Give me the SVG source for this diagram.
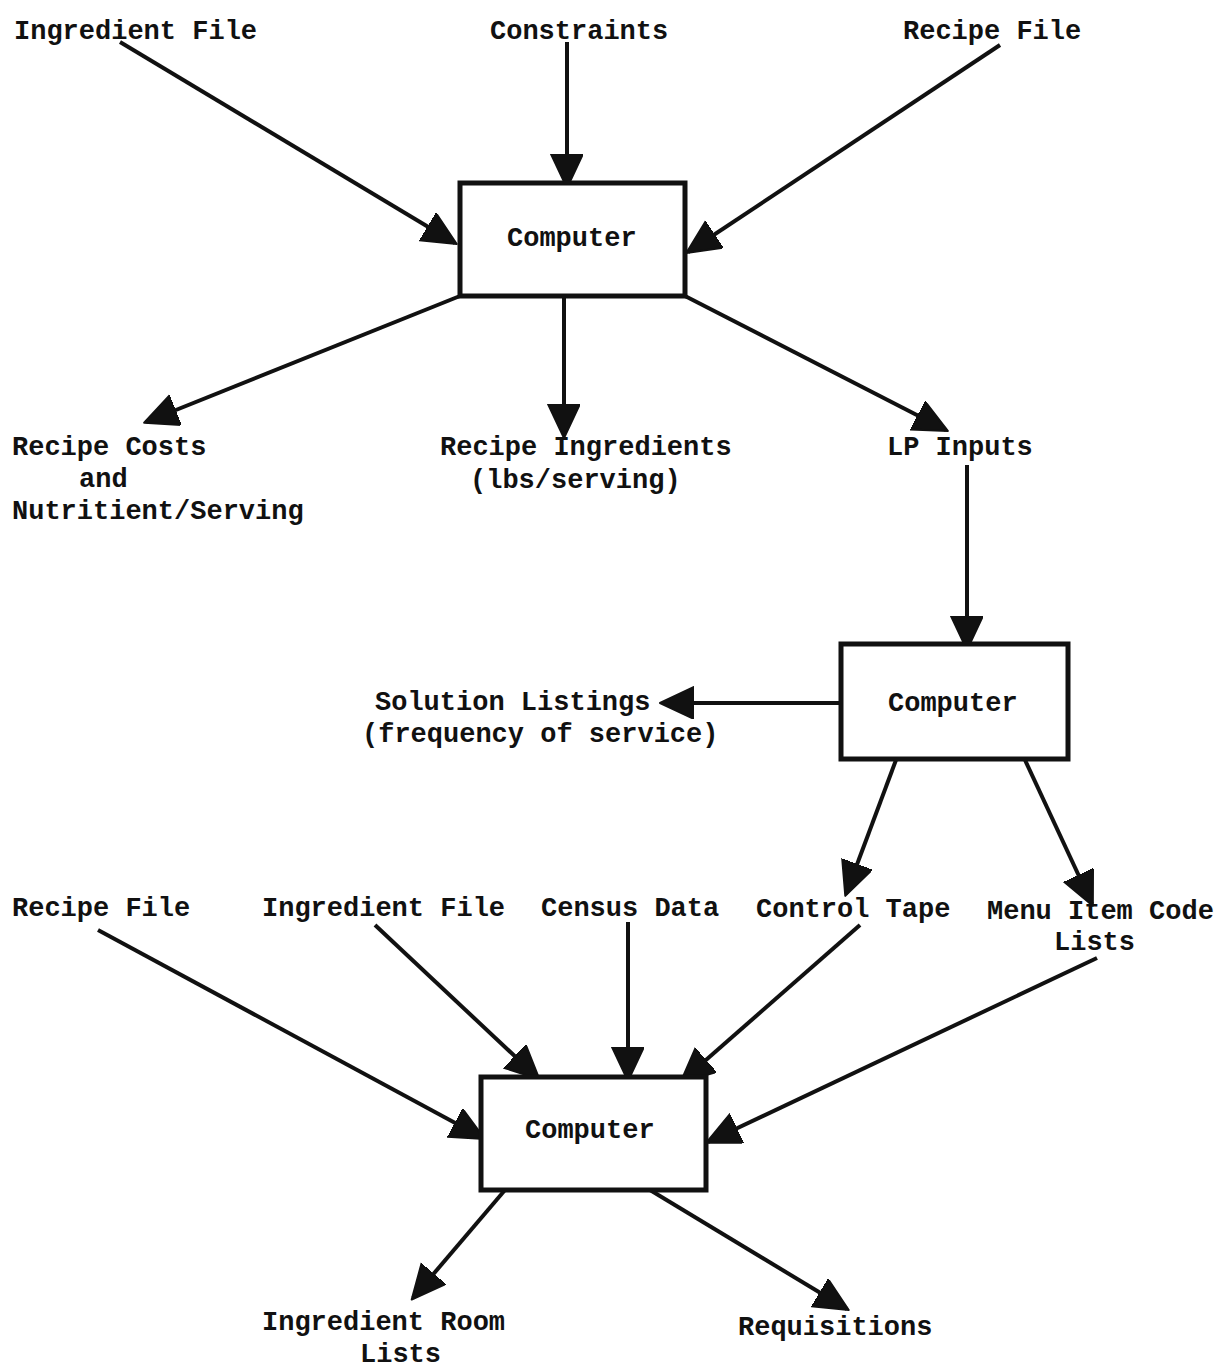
<svg xmlns="http://www.w3.org/2000/svg" width="1222" height="1368" viewBox="0 0 1222 1368">
<style>
text{font-family:"Liberation Mono","DejaVu Sans Mono",monospace;font-size:27px;font-weight:bold;fill:#111}
.box{fill:#fff;stroke:#111;stroke-width:5}
.c line{stroke:#111;stroke-width:4;marker-end:url(#ah)}
</style>
<defs>
<marker id="ah" markerUnits="userSpaceOnUse" markerWidth="36" markerHeight="34" refX="32" refY="16" orient="auto">
<path d="M0,0 L34,16 L0,32 z" fill="#111" stroke="#111" stroke-width="2" stroke-linejoin="round"/>
</marker>
</defs>
<rect width="1222" height="1368" fill="#fff"/>
<g class="c" id="connectors">
<line x1="120" y1="42" x2="455" y2="243"/>
<line x1="567" y1="42" x2="567" y2="186"/>
<line x1="1000" y1="45" x2="688" y2="252"/>
<line x1="460" y1="296" x2="146" y2="422"/>
<line x1="564" y1="296" x2="564" y2="436"/>
<line x1="685" y1="296" x2="946" y2="430"/>
<line x1="967" y1="465" x2="967" y2="648"/>
<line x1="840" y1="703" x2="662" y2="703"/>
<line x1="896" y1="760" x2="846" y2="894"/>
<line x1="1025" y1="760" x2="1092" y2="904"/>
<line x1="98" y1="930" x2="483" y2="1138"/>
<line x1="375" y1="925" x2="538" y2="1078"/>
<line x1="628" y1="922" x2="628" y2="1079"/>
<line x1="860" y1="925" x2="682" y2="1081"/>
<line x1="1097" y1="958" x2="708" y2="1142"/>
<line x1="505" y1="1190" x2="413" y2="1298"/>
<line x1="650" y1="1190" x2="847" y2="1309"/>
</g>
<g id="n1"><rect class="box" x="460" y="183" width="225" height="113"/><text x="507" y="246">Computer</text></g>
<g id="n2"><rect class="box" x="841" y="644" width="227" height="115"/><text x="888" y="711">Computer</text></g>
<g id="n3"><rect class="box" x="481" y="1077" width="225" height="113"/><text x="525" y="1138">Computer</text></g>
<g id="ingredient-file-1"><text x="14" y="39">Ingredient File</text></g>
<g id="constraints"><text x="490" y="39">Constraints</text></g>
<g id="recipe-file-1"><text x="903" y="39">Recipe File</text></g>
<g id="recipe-costs"><text x="12" y="455">Recipe Costs</text><text x="79" y="487">and</text><text x="12" y="519">Nutritient/Serving</text></g>
<g id="recipe-ingredients"><text x="440" y="455">Recipe Ingredients</text><text x="470" y="488">(lbs/serving)</text></g>
<g id="lp-inputs"><text x="887" y="455">LP Inputs</text></g>
<g id="solution-listings"><text x="375" y="710">Solution Listings</text><text x="362" y="742">(frequency of service)</text></g>
<g id="recipe-file-2"><text x="12" y="916">Recipe File</text></g>
<g id="ingredient-file-2"><text x="262" y="916">Ingredient File</text></g>
<g id="census-data"><text x="541" y="916">Census Data</text></g>
<g id="control-tape"><text x="756" y="917">Control Tape</text></g>
<g id="menu-item"><text x="987" y="919">Menu Item Code</text><text x="1054" y="950">Lists</text></g>
<g id="ingredient-room"><text x="262" y="1330">Ingredient Room</text><text x="360" y="1362">Lists</text></g>
<g id="requisitions"><text x="738" y="1335">Requisitions</text></g>
</svg>
